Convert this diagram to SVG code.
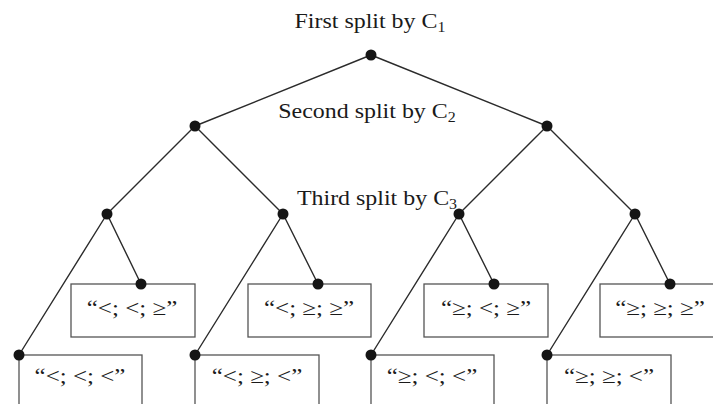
<svg xmlns="http://www.w3.org/2000/svg" width="713" height="404" viewBox="0 0 713 404">
  <style>
    .edge { stroke: #2b2b2b; stroke-width: 1.4; fill: none; }
    .dot { fill: #151515; }
    .box { fill: #ffffff; stroke: #555555; stroke-width: 1.3; }
    .lbl { font-family: "Liberation Serif", "Times New Roman", serif; font-size: 21px; fill: #1a1a1a; text-anchor: middle; }
    .sub { font-size: 14px; }
  </style>
  <rect width="713" height="404" fill="#ffffff"/>

  <!-- split captions -->
  <g id="captions">
    <text class="lbl" transform="translate(370,28) scale(1.14,1)">First split by C<tspan class="sub" dy="4">1</tspan></text>
    <text class="lbl" transform="translate(367,118) scale(1.14,1)">Second split by C<tspan class="sub" dy="4">2</tspan></text>
    <text class="lbl" transform="translate(377,205) scale(1.14,1)">Third split by C<tspan class="sub" dy="4">3</tspan></text>
  </g>

  <!-- connectors -->
  <g id="connectors">
    <path class="edge" d="M371,55 L195,126 M371,55 L547,126"/>
    <path class="edge" d="M195,126 L107,214 M195,126 L283,214 M547,126 L459,214 M547,126 L635,214"/>
    <path class="edge" d="M107,214 L141,284 M107,214 L19,355"/>
    <path class="edge" d="M283,214 L318,284 M283,214 L195,355"/>
    <path class="edge" d="M459,214 L494,284 M459,214 L371,355"/>
    <path class="edge" d="M635,214 L670,284 M635,214 L547,355"/>
  </g>

  <!-- outcome boxes -->
  <g id="leaf-lll">
    <rect class="box" x="19" y="355" width="123" height="60"/>
    <text class="lbl" transform="translate(80,383) scale(1.19,1)">“&lt;; &lt;; &lt;”</text>
  </g>
  <g id="leaf-llg">
    <rect class="box" x="71" y="284" width="124" height="53"/>
    <text class="lbl" transform="translate(132,315) scale(1.19,1)">“&lt;; &lt;; ≥”</text>
  </g>
  <g id="leaf-lgl">
    <rect class="box" x="195" y="355" width="124" height="60"/>
    <text class="lbl" transform="translate(257,383) scale(1.19,1)">“&lt;; ≥; &lt;”</text>
  </g>
  <g id="leaf-lgg">
    <rect class="box" x="248" y="284" width="123" height="53"/>
    <text class="lbl" transform="translate(309,315) scale(1.19,1)">“&lt;; ≥; ≥”</text>
  </g>
  <g id="leaf-gll">
    <rect class="box" x="371" y="355" width="123" height="60"/>
    <text class="lbl" transform="translate(432,383) scale(1.19,1)">“≥; &lt;; &lt;”</text>
  </g>
  <g id="leaf-glg">
    <rect class="box" x="424" y="284" width="124" height="53"/>
    <text class="lbl" transform="translate(486,315) scale(1.19,1)">“≥; &lt;; ≥”</text>
  </g>
  <g id="leaf-ggl">
    <rect class="box" x="547" y="355" width="124" height="60"/>
    <text class="lbl" transform="translate(609,383) scale(1.19,1)">“≥; ≥; &lt;”</text>
  </g>
  <g id="leaf-ggg">
    <rect class="box" x="600" y="284" width="124" height="53"/>
    <text class="lbl" transform="translate(660,315) scale(1.19,1)">“≥; ≥; ≥”</text>
  </g>

  <!-- split points -->
  <g id="nodes">
    <g id="n-root"><circle class="dot" cx="371" cy="55" r="5.5"/></g>
    <g id="n-l"><circle class="dot" cx="195" cy="126" r="5.5"/></g>
    <g id="n-g"><circle class="dot" cx="547" cy="126" r="5.5"/></g>
    <g id="n-ll"><circle class="dot" cx="107" cy="214" r="5.5"/></g>
    <g id="n-lg"><circle class="dot" cx="283" cy="214" r="5.5"/></g>
    <g id="n-gl"><circle class="dot" cx="459" cy="214" r="5.5"/></g>
    <g id="n-gg"><circle class="dot" cx="635" cy="214" r="5.5"/></g>
    <g id="n-llg"><circle class="dot" cx="141" cy="284" r="5.5"/></g>
    <g id="n-lgg"><circle class="dot" cx="318" cy="284" r="5.5"/></g>
    <g id="n-glg"><circle class="dot" cx="494" cy="284" r="5.5"/></g>
    <g id="n-ggg"><circle class="dot" cx="670" cy="284" r="5.5"/></g>
    <g id="n-lll"><circle class="dot" cx="19" cy="355" r="5.5"/></g>
    <g id="n-lgl"><circle class="dot" cx="195" cy="355" r="5.5"/></g>
    <g id="n-gll"><circle class="dot" cx="371" cy="355" r="5.5"/></g>
    <g id="n-ggl"><circle class="dot" cx="547" cy="355" r="5.5"/></g>
  </g>
</svg>
